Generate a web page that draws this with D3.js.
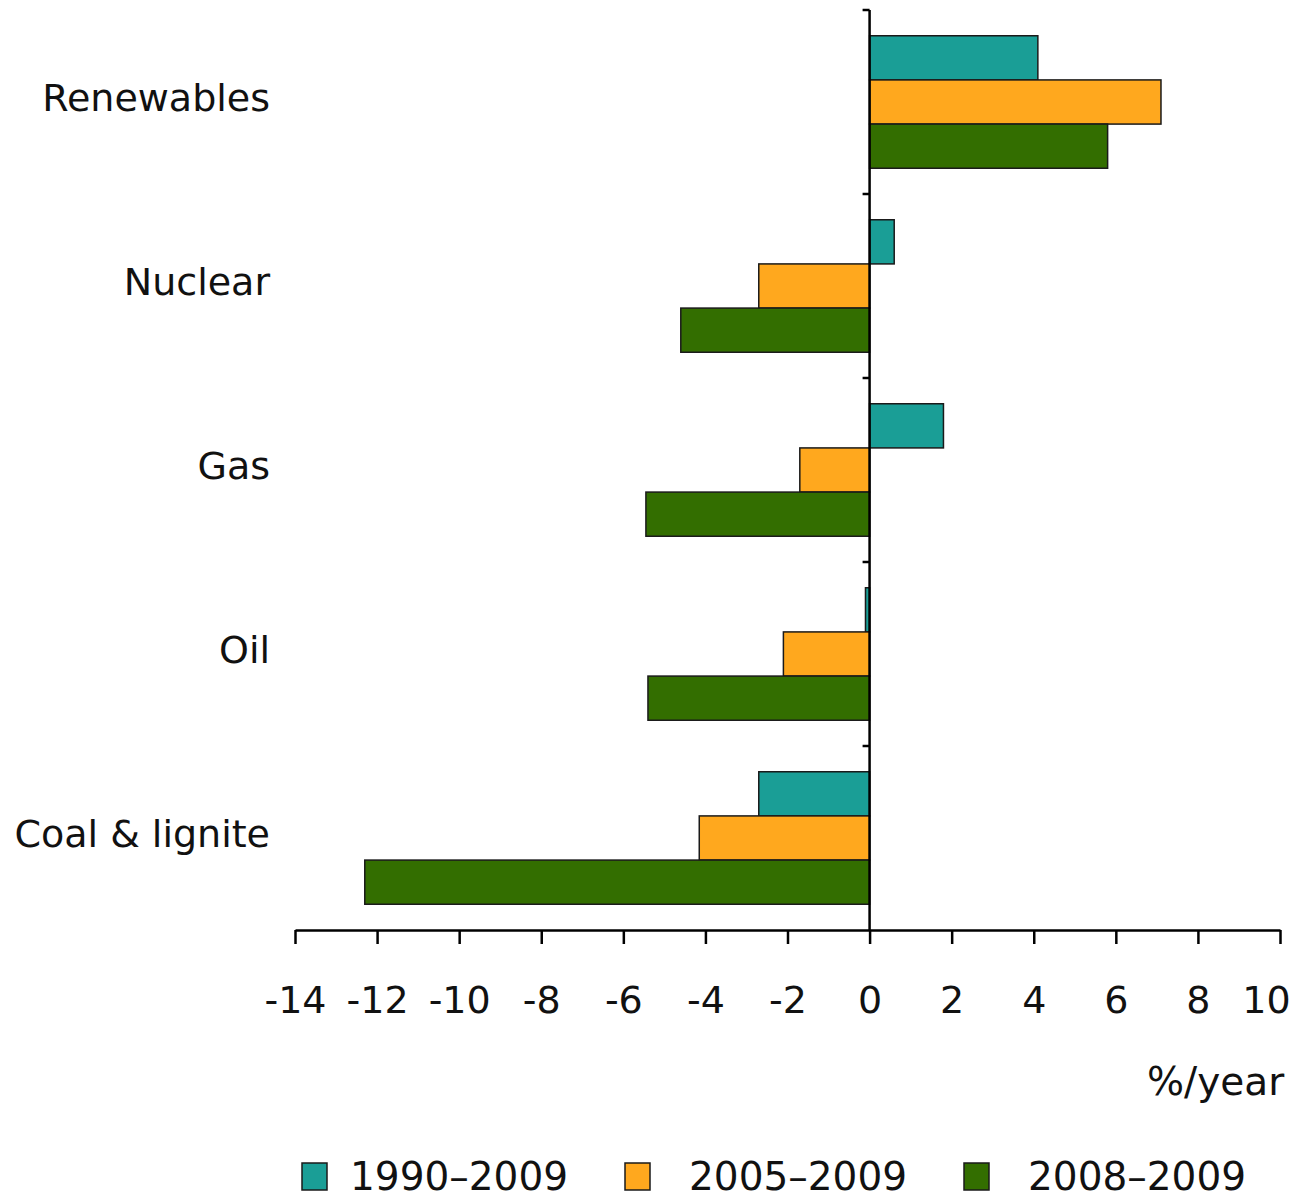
<!DOCTYPE html>
<html>
<head>
<meta charset="utf-8">
<script src="https://cdn.jsdelivr.net/npm/d3@7"></script>
<style>
  body { margin: 0; background: #fff; }
  text { font-family: "DejaVu Sans", Verdana, sans-serif; fill: #111; }
</style>
</head>
<body>
<div id="chart"></div>
<script>
var categories = ["Renewables", "Nuclear", "Gas", "Oil", "Coal & lignite"];
var series = ["1990–2009", "2005–2009", "2008–2009"];
var v1990 = [4.1, 0.6, 1.8, -0.1, -2.7];
var v2005 = [7.1, -2.7, -1.7, -2.1, -4.15];
var v2008 = [5.8, -4.6, -5.45, -5.4, -12.3];
var xTicks = [-14, -12, -10, -8, -6, -4, -2, 0, 2, 4, 6, 8, 10];
var colors = ["#1a9e96", "#ffa81e", "#336e00"];

var w = 1296, h = 1199;
var svg = d3.select("#chart").append("svg")
    .attr("width", w)
    .attr("height", h);

var x = d3.scaleLinear()
    .domain([-14, 10])
    .range([295, 1280]);

var y = d3.scaleBand()
    .domain(categories)
    .range([10, 930])
    .paddingInner(0.28)
    .paddingOuter(0.14);

var ys = d3.scaleBand()
    .domain(series)
    .range([0, y.bandwidth()]);

var rows = categories.map(function(c, i) {
  return {cat: c, vals: [v1990[i], v2005[i], v2008[i]]};
});

// bars
var g = svg.selectAll("g.cat")
    .data(rows)
  .enter().append("g")
    .attr("class", "cat")
    .attr("transform", function(d) { return "translate(0," + y(d.cat) + ")"; });

g.selectAll("rect")
    .data(function(d) { return d.vals.map(function(v, j) { return {s: series[j], v: v, j: j}; }); })
  .enter().append("rect")
    .attr("x", function(d) { return x(Math.min(0, d.v)); })
    .attr("y", function(d) { return ys(d.s); })
    .attr("width", function(d) { return Math.abs(x(d.v) - x(0)); })
    .attr("height", ys.bandwidth())
    .attr("fill", function(d) { return colors[d.j]; })
    .attr("stroke", "#1a1a1a")
    .attr("stroke-width", 1.5);

// x axis
var xaxis = d3.axisBottom(x)
    .tickValues(xTicks)
    .tickSize(14)
    .tickSizeOuter(0)
    .tickPadding(42)
    .tickFormat(d3.format("d"));

var xg = svg.append("g")
    .attr("transform", "translate(0,930)")
    .call(xaxis);
xg.select(".domain").attr("stroke", "#000").attr("stroke-width", 2.5);
xg.selectAll(".tick line").attr("stroke", "#000").attr("stroke-width", 2.5);
xg.selectAll(".tick text")
    .attr("font-size", 38)
    .attr("fill", "#111")
    .attr("dx", function(d) { return d == 10 ? -14 : 0; })
    .text(function(d) { return d < 0 ? "-" + Math.abs(d) : d; });

// y axis at zero
svg.append("line")
    .attr("x1", x(0)).attr("x2", x(0))
    .attr("y1", 10).attr("y2", 930)
    .attr("stroke", "#000")
    .attr("stroke-width", 2.5);

var bounds = d3.range(categories.length).map(function(i) { return y.range()[0] + i * y.step(); });
svg.selectAll("line.ytick")
    .data(bounds)
  .enter().append("line")
    .attr("class", "ytick")
    .attr("x1", x(0) - 7).attr("x2", x(0))
    .attr("y1", function(d) { return d; })
    .attr("y2", function(d) { return d; })
    .attr("stroke", "#000")
    .attr("stroke-width", 2.5);

// category labels
svg.selectAll("text.catlabel")
    .data(categories)
  .enter().append("text")
    .attr("class", "catlabel")
    .attr("x", 270)
    .attr("y", function(d) { return y(d) + y.bandwidth() / 2 - 2; })
    .attr("text-anchor", "end")
    .attr("dominant-baseline", "middle")
    .attr("font-size", 38)
    .text(function(d) { return d; });

// unit label
svg.append("text")
    .attr("x", 1147)
    .attr("y", 1095)
    .attr("font-size", 39)
    .text("%/year");

// legend
var legX = [302, 625, 964];
var legTextX = [48, 64, 64];
var leg = svg.selectAll("g.leg")
    .data(series)
  .enter().append("g")
    .attr("class", "leg")
    .attr("transform", function(d, i) { return "translate(" + legX[i] + ",1163)"; });
leg.append("rect")
    .attr("width", 25)
    .attr("height", 27)
    .attr("fill", function(d, i) { return colors[i]; })
    .attr("stroke", "#1a1a1a")
    .attr("stroke-width", 1.5);
leg.append("text")
    .attr("x", function(d, i) { return legTextX[i]; })
    .attr("y", 27)
    .attr("font-size", 39)
    .text(function(d) { return d; });
</script>
</body>
</html>
